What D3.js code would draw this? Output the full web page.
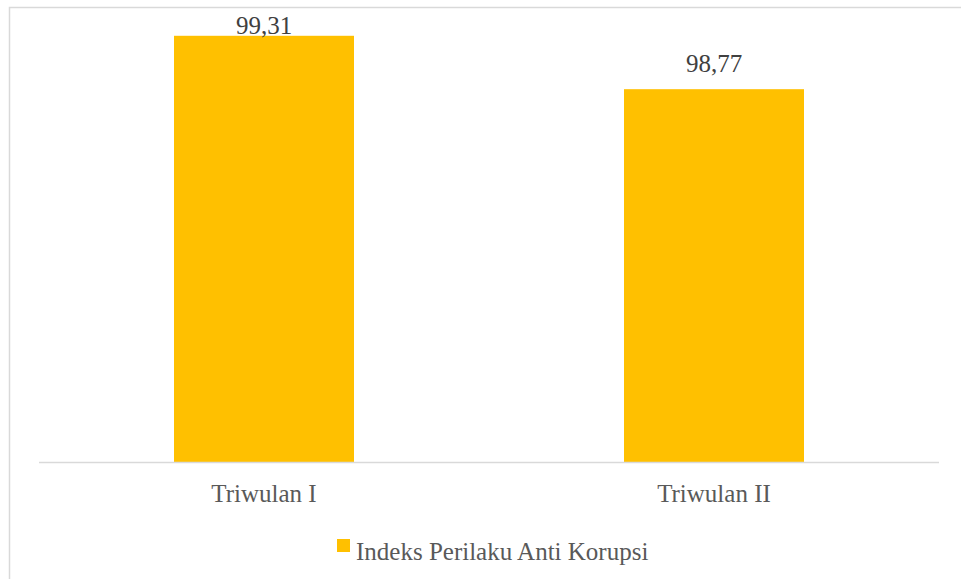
<!DOCTYPE html>
<html>
<head>
<meta charset="utf-8">
<script src="https://cdn.jsdelivr.net/npm/d3@7"></script>
<style>
  body { margin: 0; background: #fff; }
  svg { display: block; }
  text { font-family: "Liberation Serif", serif; }
</style>
</head>
<body>
<svg id="chart"></svg>
<script>
let categories = ['Triwulan I', 'Triwulan II'];
let values = [99.31, 98.77];
let seriesName = 'Indeks Perilaku Anti Korupsi';

let width = 961, height = 579;
let svg = d3.select('#chart').attr('width', width).attr('height', height);

// chart frame (runs off the right and bottom of the picture)
svg.append('rect')
    .attr('x', 9.5).attr('y', 7.5)
    .attr('width', 1000).attr('height', 600)
    .attr('fill', 'none')
    .attr('stroke', '#d9d9d9')
    .attr('stroke-width', 1.5);

let x = d3.scaleBand()
    .domain(categories)
    .range([39, 939])
    .paddingInner(0.6)
    .paddingOuter(0.3);

let y = d3.scaleLinear()
    .domain([95, 99.5])
    .range([462, 17]);

svg.append('g')
    .selectAll('rect')
    .data(values)
    .enter()
    .append('rect')
    .attr('x', (d, i) => x(categories[i]))
    .attr('y', d => y(d))
    .attr('width', x.bandwidth())
    .attr('height', d => y(y.domain()[0]) - y(d))
    .attr('fill', '#ffc000');

// baseline
svg.append('line')
    .attr('x1', 39).attr('x2', 939)
    .attr('y1', y(95) + 0.5).attr('y2', y(95) + 0.5)
    .attr('stroke', '#d9d9d9')
    .attr('stroke-width', 1.5);

// data labels, pushed down when there is no room above the bar
svg.append('g')
    .selectAll('text')
    .data(values)
    .enter()
    .append('text')
    .attr('x', (d, i) => x(categories[i]) + x.bandwidth() / 2)
    .attr('y', d => Math.max(y(d) - 17, 34))
    .attr('text-anchor', 'middle')
    .attr('font-size', 25)
    .attr('fill', '#404040')
    .text(d => d.toFixed(2).replace('.', ','));

// category labels
svg.append('g')
    .selectAll('text')
    .data(categories)
    .enter()
    .append('text')
    .attr('x', d => x(d) + x.bandwidth() / 2)
    .attr('y', 502)
    .attr('text-anchor', 'middle')
    .attr('font-size', 25)
    .attr('fill', '#595959')
    .text(d => d);

// legend
let legend = svg.append('g').attr('transform', 'translate(337, 539)');
legend.append('rect')
    .attr('width', 13).attr('height', 13)
    .attr('fill', '#ffc000');
legend.append('text')
    .attr('x', 19).attr('y', 21)
    .attr('font-size', 25)
    .attr('fill', '#595959')
    .text(seriesName);
</script>
</body>
</html>
